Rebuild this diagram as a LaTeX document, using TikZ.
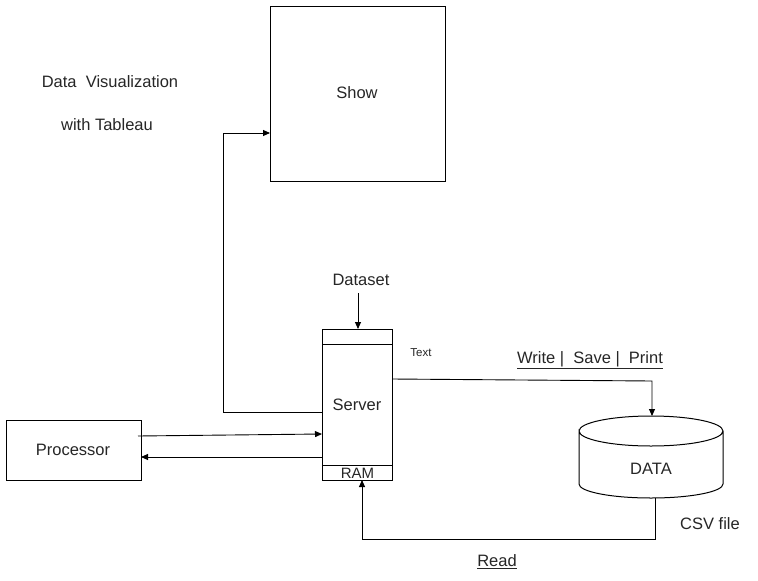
\documentclass[tikz,border=0pt]{standalone}
\usepackage{fontspec}
\setmainfont{Liberation Sans}
\usetikzlibrary{arrows.meta}
\begin{document}
\begin{tikzpicture}[x=1pt,y=-1pt,line width=1pt,
  box/.style={draw,inner sep=0pt},
  lbl/.style={inner sep=0pt,yshift=-1pt,font=\fontsize{16.5}{18}\selectfont,text=black!85},
  small/.style={inner sep=0pt,yshift=-1pt,font=\fontsize{11.5}{13}\selectfont,text=black!85},
  arr/.style={-{Triangle[length=7pt,width=6pt]}},
  ln/.style={line width=0.9pt}]
\useasboundingbox (0,0) rectangle (758,581);
% boxes
\node[box,minimum width=175pt,minimum height=175pt] (show) at (357.5,93.5) {};
\node[lbl] (showtxt) at (357,92) {Show};
\node[box,minimum width=70pt,minimum height=151pt] (server) at (357,404.5) {};
\draw (322,344) -- (392,344);
\draw (322,465) -- (392,465);
\node[lbl] (servertxt) at (357,404) {Server};
\node[lbl,font=\fontsize{15}{16}\selectfont] (ram) at (357.5,472.5) {RAM};
\node[box,minimum width=135pt,minimum height=60pt] (proc) at (73.5,450) {};
\node[lbl] (proctxt) at (73,449) {Processor};
% cylinder
\draw (579,431) arc[start angle=180,end angle=540,x radius=72,y radius=15] -- (579,484)
  arc[start angle=180,end angle=0,x radius=72,y radius=14] -- (723,431);
\node[lbl] (datatxt) at (651,468) {DATA};
\coordinate (datatop) at (652,416);
\coordinate (databot) at (655,498);
% texts
\node[lbl] (dataset) at (361,279) {Dataset};
\node[small] (text) at (421,352) {Text};
\node[lbl] (wsp) at (590,359) {\underline{Write |\ \ Save |\ \ Print}};
\node[lbl] (read) at (497,561) {\underline{Read}};
\node[lbl] (csv) at (710,523) {CSV file};
\node[lbl] (dv1) at (110,81) {Data\ \ Visualization};
\node[lbl] (dv2) at (107,124) {with Tableau};
% connectors
\coordinate (dsstart) at (358,293);
\draw[arr,ln] (dsstart) -- (358,329);
\coordinate (s1) at (322,412);
\coordinate (showin) at (270,133);
\draw[arr,ln] (s1) -- (223,412) -- (223,133) -- (showin);
\coordinate (p1) at (138,436);
\coordinate (s2) at (322,434);
\draw[arr,ln] (p1) -- (s2);
\coordinate (s3) at (322,457);
\coordinate (p2) at (141,457);
\draw[arr,ln] (s3) -- (p2);
\coordinate (s4) at (392,379);
\draw[arr,ln] (s4) -- (652,381) -- (datatop);
\coordinate (ramin) at (362,480);
\draw[arr,ln] (databot) -- (655,539) -- (362,539) -- (ramin);
\end{tikzpicture}
\end{document}
